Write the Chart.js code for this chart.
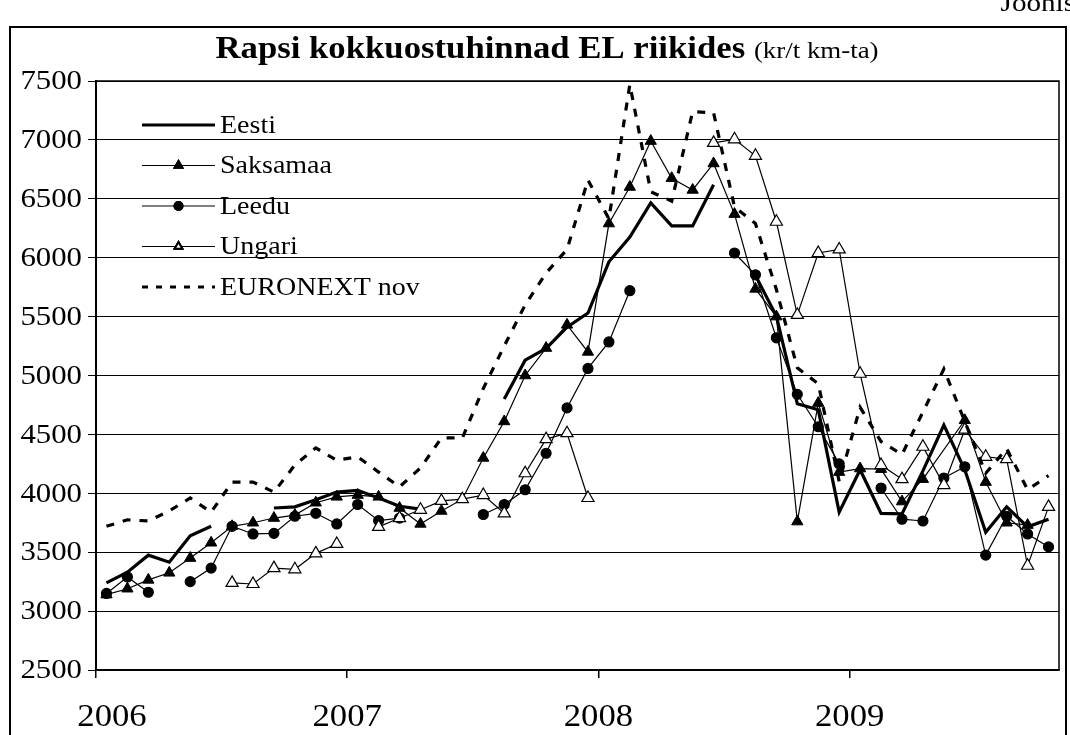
<!DOCTYPE html>
<html>
<head>
<meta charset="utf-8"/>
<title>Rapsi kokkuostuhinnad EL riikides</title>
<style>
  html, body { margin: 0; padding: 0; background: #fff; }
  #wrap { width: 1070px; height: 735px; }
</style>
</head>
<body>
<div id="wrap"><canvas id="myChart" width="1070" height="735"></canvas></div>
<script src="https://cdn.jsdelivr.net/npm/chart.js"></script>
<script>
// kuud jaan 2006 .. okt 2009
const months = [
  '2006-01','2006-02','2006-03','2006-04','2006-05','2006-06','2006-07','2006-08','2006-09','2006-10','2006-11','2006-12',
  '2007-01','2007-02','2007-03','2007-04','2007-05','2007-06','2007-07','2007-08','2007-09','2007-10','2007-11','2007-12',
  '2008-01','2008-02','2008-03','2008-04','2008-05','2008-06','2008-07','2008-08','2008-09','2008-10','2008-11','2008-12',
  '2009-01','2009-02','2009-03','2009-04','2009-05','2009-06','2009-07','2009-08','2009-09','2009-10'
];
const yearLabels = ['2006', '2007', '2008', '2009'];

const eesti = [
  3240, 3330, 3475, 3415, 3640, 3720, null, null, 3875, 3885, 3945, 4010,
  4025, 3960, 3890, 3865, null, null, null, 4800, 5130, 5230, 5410, 5530,
  5965, 6175, 6465, 6270, 6270, 6620, null, 5850, 5505, 4760, 4710, 3840,
  4200, 3830, 3825, 4190, 4580, 4200, 3670, 3885, 3715, 3780
];
const saksamaa = [
  3140, 3190, 3265, 3325, 3450, 3580, 3720, 3750, 3790, 3815, 3920, 3970,
  3985, 3970, 3875, 3740, 3850, 3950, 4300, 4610, 5000, 5233, 5430, 5200,
  6290, 6600, 6990, 6675, 6575, 6800, 6370, 5735, 5500, 3760, 4766, 4180,
  4210, 4205, 3930, 4120, null, 4620, 4095, 3750, 3730, null
];
const leedu = [
  3150, 3290, 3160, null, 3250, 3365, 3720, 3655, 3660, 3805, 3830, 3740,
  3905, 3768, 3790, null, null, null, 3820, 3905, 4030, 4340, 4725, 5060,
  5285, 5720, null, null, null, null, 6040, 5855, 5320, 4840, 4565, 4250,
  null, 4045, 3780, 3765, 4130, 4225, 3475, 3805, 3655, 3545
];
const ungari = [
  null, null, null, null, null, null, 3240, 3230, 3365, 3355, 3490, 3570,
  null, 3715, 3790, 3860, 3935, 3950, 3985, 3830, 4170, 4460, 4510, 3960,
  null, null, null, null, null, 6975, 7005, 6865, 6305, 5515, 6040, 6070,
  5015, 4240, 4120, 4395, 4070, 4540, 4310, 4290, 3385, 3885
];
const euronext = [
  3720, 3775, 3765, 3850, 3960, 3840, 4095, 4095, 4010, 4240, 4385, 4280,
  4310, 4180, 4055, 4215, 4470, 4470, 4890, 5250, 5600, 5870, 6070, 6660,
  6330, 7470, 6560, 6480, 7240, 7230, 6430, 6290, 5730, 5065, 4930, 4100,
  4730, 4440, 4330, 4690, 5055, 4610, 4170, 4380, 4030, 4150
];

const serif = '"Liberation Serif", "Times New Roman", serif';
const SX = 1.12; // reference text is a bit wide

function toPoints(values) {
  return values.map((v, i) => ({ x: i + 0.5, y: v }));
}

function wideText(ctx, text, x, y, align, font) {
  ctx.save();
  ctx.font = font;
  const w = ctx.measureText(text).width * SX;
  const left = align === 'right' ? x - w : (align === 'center' ? x - w / 2 : x);
  ctx.translate(left, y);
  ctx.scale(SX, 1);
  ctx.textAlign = 'left';
  ctx.fillText(text, 0, 0);
  ctx.restore();
  return w;
}

const datasets = [
  {
    label: 'Eesti',
    data: toPoints(eesti),
    borderColor: '#000',
    borderWidth: 3.2,
    pointRadius: 0,
    order: 5
  },
  {
    label: 'Saksamaa',
    data: toPoints(saksamaa),
    borderColor: '#000',
    borderWidth: 1.2,
    pointStyle: 'triangle',
    pointRadius: 6.5,
    pointBackgroundColor: '#000',
    pointBorderColor: '#000',
    pointBorderWidth: 1,
    spanGaps: true,
    order: 4
  },
  {
    label: 'Leedu',
    data: toPoints(leedu),
    borderColor: '#000',
    borderWidth: 1.2,
    pointStyle: 'circle',
    pointRadius: 5,
    pointBackgroundColor: '#000',
    pointBorderColor: '#000',
    order: 3
  },
  {
    label: 'Ungari',
    data: toPoints(ungari),
    borderColor: '#000',
    borderWidth: 1.2,
    pointStyle: 'triangle',
    pointRadius: 7,
    pointBackgroundColor: '#fff',
    pointBorderColor: '#000',
    pointBorderWidth: 1.2,
    order: 2
  },
  {
    label: 'EURONEXT nov',
    data: toPoints(euronext),
    borderColor: '#000',
    borderWidth: 3.2,
    borderDash: [8, 9],
    pointRadius: 0,
    order: 1
  }
];

// pealkiri, raam, teljesildid ja legend
const decor = {
  id: 'decor',
  beforeDatasetsDraw(chart) {
    const ctx = chart.ctx;
    const a = chart.chartArea;
    ctx.save();
    ctx.strokeStyle = '#000';
    ctx.lineWidth = 1.5;
    ctx.strokeRect(a.left, a.top, a.right - a.left, a.bottom - a.top);
    ctx.restore();
  },
  afterDraw(chart) {
    const ctx = chart.ctx;
    const a = chart.chartArea;
    ctx.save();
    ctx.strokeStyle = '#000';
    ctx.lineWidth = 2;
    ctx.strokeRect(10, 27, 1056, 740);

    ctx.fillStyle = '#000';
    ctx.textBaseline = 'alphabetic';
    wideText(ctx, 'Joonis', 1075, 11, 'right', '26px ' + serif);

    // title
    const t1 = 'Rapsi kokkuostuhinnad EL riikides';
    const t2 = '(kr/t km-ta)';
    const fb = 'bold 31px ' + serif, fr = '24px ' + serif;
    ctx.font = fb;
    const w1 = ctx.measureText(t1 + ' ').width * SX;
    ctx.font = fr;
    const w2 = ctx.measureText(t2).width * SX;
    const x0 = 547 - (w1 + w2) / 2;
    wideText(ctx, t1, x0, 58, 'left', fb);
    wideText(ctx, t2, x0 + w1, 58, 'left', fr);

    // axis labels
    ctx.textBaseline = 'middle';
    const ys = chart.scales.y;
    ys.ticks.forEach((t) => {
      wideText(ctx, String(t.value), 82, ys.getPixelForValue(t.value) + 1, 'right', '27.5px ' + serif);
    });
    const xs = chart.scales.x;
    xs.ticks.forEach((t, k) => {
      const px = Math.max(xs.getPixelForValue(t.value), a.left + 16);
      wideText(ctx, yearLabels[k], px, 718, 'center', '31px ' + serif);
    });

    // legend
    const lx0 = a.left + 46, lx1 = a.left + 119, tx = a.left + 124;
    chart.data.datasets.forEach((ds, i) => {
      const y = a.top + 44 + i * 40.5;
      ctx.save();
      ctx.strokeStyle = '#000';
      ctx.lineWidth = ds.borderWidth;
      ctx.setLineDash(ds.borderDash ? [6, 8] : []);
      ctx.beginPath();
      ctx.moveTo(lx0, y);
      ctx.lineTo(lx1, y);
      ctx.stroke();
      ctx.restore();
      if (ds.pointRadius > 0) {
        Chart.helpers.drawPoint(ctx, {
          pointStyle: ds.pointStyle,
          radius: ds.pointStyle === 'circle' ? 4 : 4.5,
          borderWidth: 1
        }, (lx0 + lx1) / 2, y);
        ctx.fillStyle = ds.pointBackgroundColor;
        ctx.strokeStyle = '#000';
        ctx.fill();
        ctx.stroke();
      }
      ctx.fillStyle = '#000';
      wideText(ctx, ds.label, tx, y + 1, 'left', '25px ' + serif);
    });
    ctx.restore();
  }
};

const config = {
  type: 'line',
  data: { datasets: datasets },
  options: {
    responsive: false,
    animation: false,
    devicePixelRatio: 1,
    layout: { padding: { left: 10, right: 11, top: 81, bottom: 0 } },
    plugins: {
      legend: { display: false },
      title: { display: false },
      tooltip: { enabled: false }
    },
    scales: {
      x: {
        type: 'linear',
        min: 0,
        max: months.length,
        afterBuildTicks: (s) => {
          s.ticks = yearLabels.map((y, k) => ({ value: k * 12 }));
        },
        afterFit: (s) => { s.height = 65; },
        border: { display: true, color: '#000', width: 2 },
        grid: { drawOnChartArea: false, drawTicks: true, tickLength: 8, color: '#000', lineWidth: 1.5 },
        ticks: { display: false }
      },
      y: {
        min: 2500,
        max: 7500,
        afterFit: (s) => { s.width = 86; },
        border: { display: true, color: '#000', width: 2 },
        grid: { color: '#000', lineWidth: 1, tickLength: 8 },
        ticks: { stepSize: 500, display: false }
      }
    }
  },
  plugins: [decor]
};

const myChart = new Chart(document.getElementById('myChart'), config);
</script>
</body>
</html>
